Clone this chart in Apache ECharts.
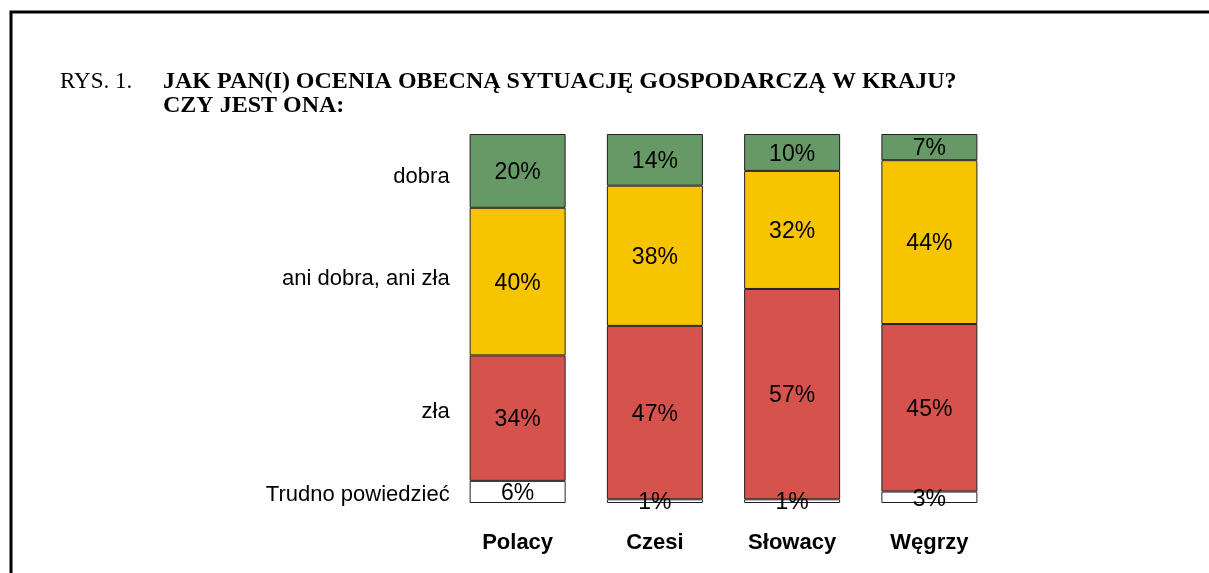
<!DOCTYPE html>
<html>
<head>
<meta charset="utf-8">
<script src="https://cdn.jsdelivr.net/npm/echarts@6/dist/echarts.min.js"></script>
<style>
  html, body { margin: 0; padding: 0; background: #fff; }
  #chart { width: 1209px; height: 573px; }
</style>
</head>
<body>
<div id="chart"></div>
<script>
// kraje
var countries = ['Polacy', 'Czesi', 'Słowacy', 'Węgrzy'];
// odpowiedzi (od dołu słupka)
var answers = ['Trudno powiedzieć', 'zła', 'ani dobra, ani zła', 'dobra'];

var trudno = [6, 1, 1, 3.1];
var zla = [34, 47, 57, 45.4];
var aniAni = [40, 38, 32, 44.4];
var dobra = [20, 14, 10, 7.1];

var colors = ['#ffffff', '#d5534c', '#f7c400', '#669966'];

var myChart = echarts.init(document.getElementById('chart'));

var values = [trudno, zla, aniAni, dobra];
var series = [];
for (var i = 0; i < answers.length; i++) {
    series.push({
        name: answers[i],
        type: 'bar',
        stack: 'all',
        barWidth: 96,
        data: values[i],
        itemStyle: {
            color: colors[i],
            borderColor: '#222',
            borderWidth: 1
        },
        label: {
            show: true,
            position: 'inside',
            offset: [0, 2],
            color: '#000',
            fontFamily: 'Liberation Sans, Arial, sans-serif',
            fontSize: 23,
            formatter: function (p) {
                return Math.round(p.value) + '%';
            }
        }
    });
}

// opisy po lewej stronie - przy odcinkach słupka "Polacy"
var legendShift = [3, -6, -3, 6];
var legendPoints = [];
var base = 0;
for (var i = 0; i < answers.length; i++) {
    var v = values[i][0];
    legendPoints.push({
        value: [0, base + v / 2],
        name: answers[i],
        label: { offset: [0, legendShift[i]] }
    });
    base += v;
}
series.push({
    type: 'scatter',
    symbolSize: 0,
    silent: true,
    itemStyle: { opacity: 1 },
    data: legendPoints,
    label: {
        show: true,
        position: 'left',
        distance: 68,
        color: '#000',
        fontFamily: 'Liberation Sans, Arial, sans-serif',
        fontSize: 22,
        formatter: function (p) { return p.name; }
    }
});

var option = {
    backgroundColor: '#fff',
    animation: false,
    title: [
        {
            text: 'RYS. 1.',
            left: 60,
            top: 70,
            padding: 0,
            textStyle: {
                fontFamily: 'Liberation Serif, Times New Roman, serif',
                fontWeight: 'normal',
                fontSize: 23,
                lineHeight: 24,
                color: '#000'
            }
        },
        {
            text: 'JAK PAN(I) OCENIA OBECNĄ SYTUACJĘ GOSPODARCZĄ W KRAJU?\nCZY JEST ONA:',
            left: 163,
            top: 70,
            padding: 0,
            textStyle: {
                fontFamily: 'Liberation Serif, Times New Roman, serif',
                fontWeight: 'bold',
                fontSize: 24,
                lineHeight: 24,
                color: '#000'
            }
        }
    ],
    grid: {
        left: 449,
        top: 134,
        width: 549,
        height: 369
    },
    xAxis: {
        type: 'category',
        data: countries,
        axisLine: { show: false },
        axisTick: { show: false },
        axisLabel: {
            margin: 29,
            color: '#000',
            fontFamily: 'Liberation Sans, Arial, sans-serif',
            fontWeight: 'bold',
            fontSize: 22
        }
    },
    yAxis: {
        type: 'value',
        min: 0,
        max: 100,
        show: false
    },
    graphic: [{
        type: 'polyline',
        shape: { points: [[11, 600], [11, 12], [1230, 12]] },
        style: { stroke: '#000', lineWidth: 3, fill: null },
        silent: true
    }],
    series: series
};

myChart.setOption(option);
</script>
</body>
</html>
